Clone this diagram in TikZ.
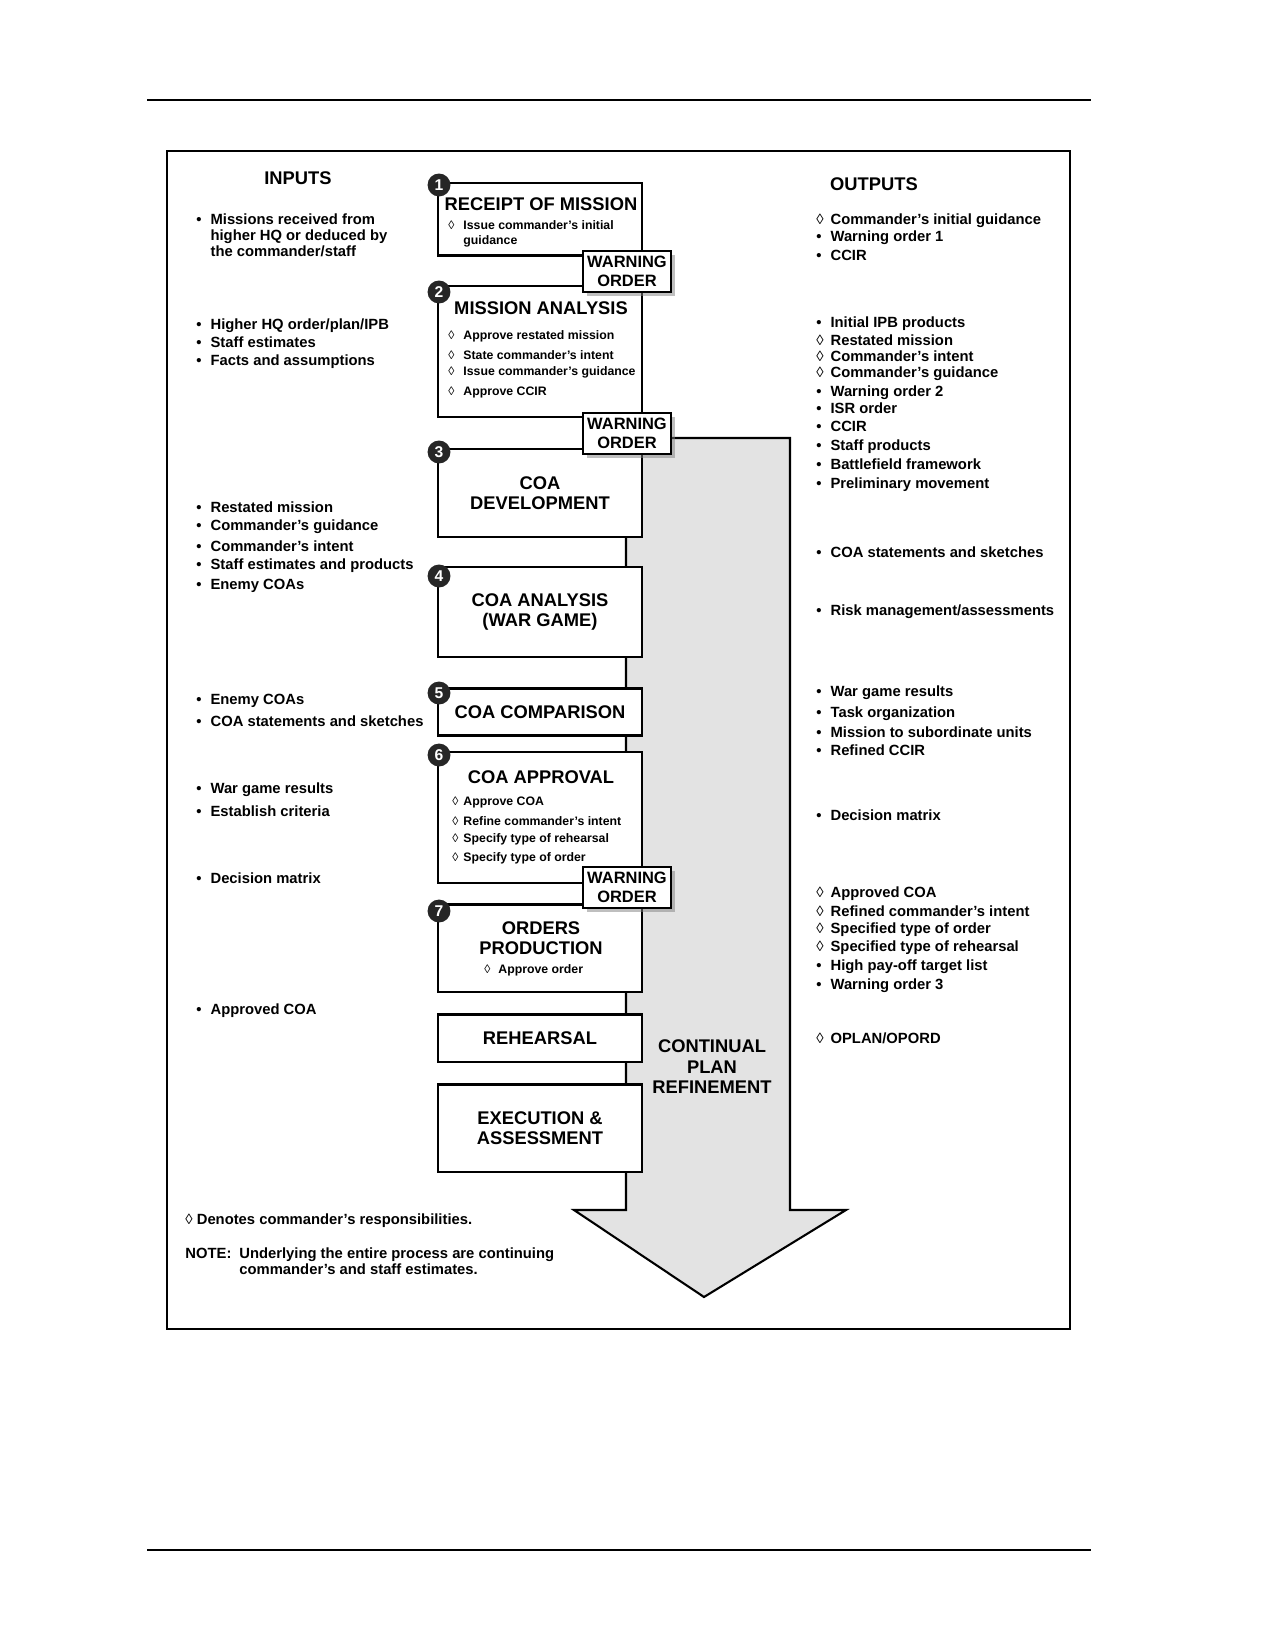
\documentclass[tikz,border=0pt]{standalone}
\usepackage{fontspec}
\setmainfont{Liberation Sans}
\usetikzlibrary{positioning}
\usetikzlibrary{shadows}

\newcommand{\mk}[2][6.8pt]{\makebox[#1][l]{#2}}
\newcommand{\dm}{{\mdseries ◊}}

\tikzset{
  procbox/.style={draw, line width=1.4pt, fill=white, minimum width=97.9pt, inner sep=0pt, align=center, font=\fontsize{8.8}{9.8}\selectfont\bfseries},
  wobox/.style={draw, line width=1.2pt, fill=white, minimum width=42.2pt, minimum height=19.7pt, inner sep=0pt, align=center, font=\fontsize{7.9}{9.1}\selectfont\bfseries, drop shadow={shadow xshift=2pt, shadow yshift=-2pt}},
  numdot/.style={circle, fill=black!85, text=white, minimum size=11pt, inner sep=0pt, font=\fontsize{7.5}{7.5}\selectfont\bfseries},
  boxtitle/.style={inner sep=0pt, align=center, font=\fontsize{8.8}{9.8}\selectfont\bfseries},
  boxitem/.style={anchor=base west, yshift=-2.1pt, inner sep=0pt, font=\fontsize{5.9}{6}\selectfont\bfseries},
  listitem/.style={anchor=base west, yshift=-2.5pt, inner sep=0pt, font=\fontsize{7.1}{7.7}\selectfont\bfseries}
}

\begin{document}
\begin{tikzpicture}[x=0.48pt, y=-0.48pt]
\useasboundingbox (0,0) rectangle (1275,1650);

% Page rules and frame
\draw [line width=1pt] (147,100) -- (1091,100);
\draw [line width=1pt] (147,1550) -- (1091,1550);
\draw [line width=1pt] (167,151) rectangle (1070,1329);

% Continual plan refinement arrow
\draw [line width=1pt, fill=black!11] (626,438) -- (790,438) -- (790,1210) -- (846,1210)
  -- (704,1297) -- (574,1210) -- (626,1210) -- cycle;
\node [boxtitle] (refine) at (712,1067) {CONTINUAL\\PLAN\\REFINEMENT};

% Place nodes
\node [procbox, minimum height=35pt] (receipt) at (540,219.5) {};
\node [procbox, minimum height=62.9pt] (mission) at (540,351.5) {};
\node [procbox, minimum height=42.2pt] (coadev) at (540,493) {COA\\DEVELOPMENT};
\node [procbox, minimum height=43.2pt] (coaanl) at (540,612) {COA ANALYSIS\\(WAR GAME)};
\node [procbox, minimum height=22.6pt] (coacmp) at (540,712) {COA COMPARISON};
\node [procbox, minimum height=62.9pt] (coaapp) at (540,817.5) {};
\node [procbox, minimum height=42.2pt] (orders) at (540,948) {};
\node [procbox, minimum height=23pt] (rehearse) at (540,1038) {REHEARSAL};
\node [procbox, minimum height=42.2pt] (execute) at (540,1128) {EXECUTION \&\\ASSESSMENT};

% Box titles and commander tasks
\node [boxtitle] (receipt-t) at (541,204) {RECEIPT OF MISSION};
\node [boxitem] (receipt-a) at (448,225) {\mk[7.2pt]{\dm}Issue commander’s initial};
\node [boxitem] (receipt-b) at (448,240) {\mk[7.2pt]{}guidance};
\node [boxtitle] (mission-t) at (541,308) {MISSION ANALYSIS};
\foreach \y/\t in {335/Approve restated mission, 355/State commander’s intent,
                   371/Issue commander’s guidance, 391/Approve CCIR}
  \node [boxitem] (mission-\y) at (448,\y) {\mk[7.2pt]{\dm}\t};
\node [boxtitle] (coaapp-t) at (541,777) {COA APPROVAL};
\foreach \y/\t in {801/Approve COA, 821/Refine commander’s intent,
                   838/Specify type of rehearsal, 857/Specify type of order}
  \node [boxitem] (coaapp-\y) at (452,\y) {\mk[5.3pt]{\dm}\t};
\node [boxtitle] (orders-t) at (541,938) {ORDERS\\PRODUCTION};
\node [boxitem] (orders-a) at (484,969) {\mk[6.7pt]{\dm}Approve order};

% Warning orders
\node [wobox] (warn1) at (627,271.5) {WARNING\\ORDER};
\node [wobox] (warn2) at (627,433.5) {WARNING\\ORDER};
\node [wobox] (warn3) at (627,887.5) {WARNING\\ORDER};

% Step numbers
\foreach \n/\y in {1/185, 2/292, 3/452, 4/576, 5/693, 6/755, 7/911}
  \node [numdot] (step\n) at (439,\y) {\n};

% Inputs
\node [boxtitle] (inputs) at (298,178) {INPUTS};
\foreach \y/\m/\t in {219/•/Missions received from, 235/{}/higher HQ or deduced by,
    251/{}/{the commander/staff}, 324/•/{Higher HQ order/plan/IPB}, 342/•/Staff estimates,
    360/•/Facts and assumptions, 507/•/Restated mission, 525/•/Commander’s guidance,
    546/•/Commander’s intent, 564/•/Staff estimates and products, 584/•/Enemy COAs,
    699/•/Enemy COAs, 721/•/COA statements and sketches, 788/•/War game results,
    811/•/Establish criteria, 878/•/Decision matrix, 1009/•/Approved COA}
  \node [listitem] (in-\y) at (196,\y) {\mk{\m}\t};

% Outputs
\node [boxtitle] (outputs) at (874,184) {OUTPUTS};
\foreach \y/\m/\t in {219/\dm/Commander’s initial guidance, 236/•/Warning order 1, 255/•/CCIR,
    322/•/Initial IPB products, 340/\dm/Restated mission, 356/\dm/Commander’s intent,
    372/\dm/Commander’s guidance, 391/•/Warning order 2, 408/•/ISR order, 426/•/CCIR,
    445/•/Staff products, 464/•/Battlefield framework, 483/•/Preliminary movement,
    552/•/COA statements and sketches, 610/•/{Risk management/assessments},
    691/•/War game results, 712/•/Task organization, 732/•/Mission to subordinate units,
    750/•/Refined CCIR, 815/•/Decision matrix, 892/\dm/Approved COA,
    911/\dm/Refined commander’s intent, 928/\dm/Specified type of order,
    946/\dm/Specified type of rehearsal, 965/•/High pay-off target list,
    984/•/Warning order 3, 1038/\dm/{OPLAN/OPORD}}
  \node [listitem] (out-\y) at (816,\y) {\mk{\m}\t};

% Notes
\node [listitem] (denotes) at (185,1219) {\dm\ Denotes commander’s responsibilities.};
\node [listitem] (note) at (185,1253) {\mk[25.9pt]{NOTE:}Underlying the entire process are continuing};
\node [listitem] (note-b) at (239,1269) {commander’s and staff estimates.};
\end{tikzpicture}
\end{document}
